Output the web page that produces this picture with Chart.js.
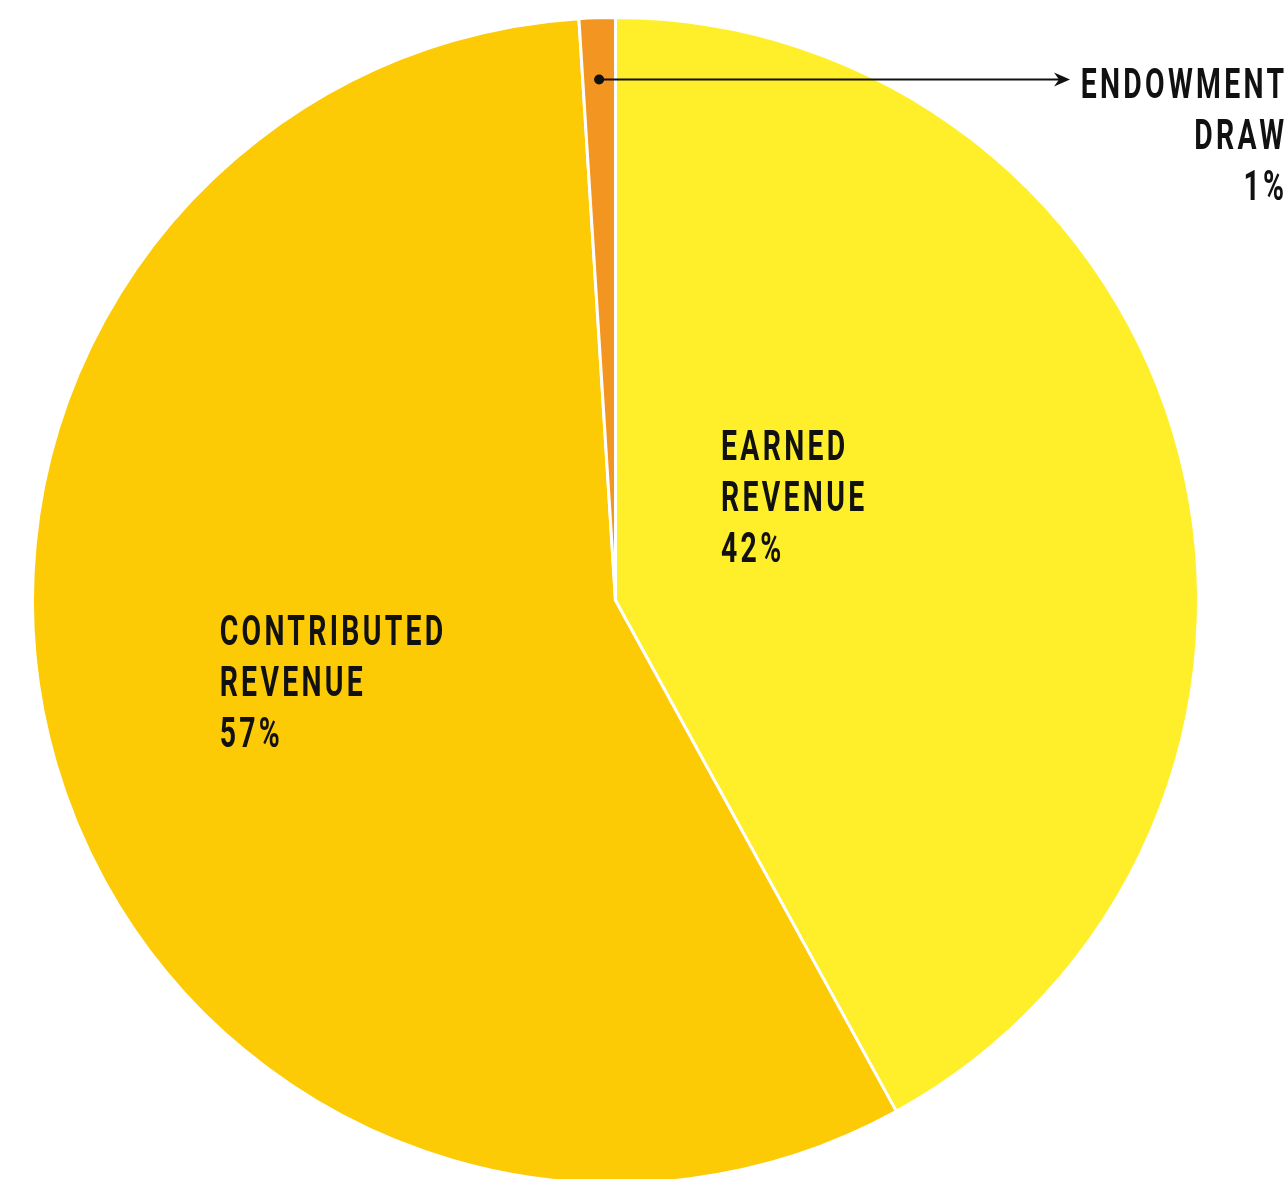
<!DOCTYPE html>
<html>
<head>
<meta charset="utf-8">
<script src="https://cdn.jsdelivr.net/npm/chart.js@4"></script>
<style>
  html, body { margin: 0; padding: 0; background: #fff; overflow: hidden; }
  #wrap { position: absolute; left: 0; top: 0; width: 1286px; height: 1200px; }
</style>
</head>
<body>
<div id="wrap"><canvas id="myChart" width="1286" height="1200"></canvas></div>
<script>
var categories = ["EARNED REVENUE", "CONTRIBUTED REVENUE", "ENDOWMENT DRAW"];
var labelLines = [["EARNED", "REVENUE"], ["CONTRIBUTED", "REVENUE"], ["ENDOWMENT", "DRAW"]];
var shares = [42, 57, 1];
var sliceColors = ["#FFEF2A", "#FDCA06", "#F39521"];

var labelFont = "bold 43px Roboto, 'DejaVu Sans', sans-serif";
var squeeze = 0.66; // condensed look

// labels drawn on top of the pie
var sliceLabels = {
  id: "sliceLabels",
  afterDatasetsDraw: function (chart) {
    var ctx = chart.ctx;
    var arcs = chart.getDatasetMeta(0).data;
    var cx = arcs[0].x, cy = arcs[0].y, r = arcs[0].outerRadius;
    ctx.save();
    ctx.fillStyle = "#111";

    function block(lines, x, y, align) {
      ctx.save();
      ctx.translate(x, y);
      ctx.scale(squeeze, 1);
      ctx.font = labelFont;
      ctx.letterSpacing = "5px";
      ctx.textBaseline = "alphabetic";
      ctx.textAlign = align;
      lines.forEach(function (t, k) {
        // trailing letterSpacing shifts right-aligned text, compensate
        var dx = align === "right" ? 5 : 0;
        ctx.fillText(t, dx, k * 51);
      });
      ctx.restore();
    }

    // earned
    block(labelLines[0].concat([shares[0] + "%"]), cx + 0.181 * r, cy - 0.241 * r, "left");
    // contributed
    block(labelLines[1].concat([shares[1] + "%"]), cx - 0.679 * r, cy + 0.077 * r, "left");

    // endowment: dot + arrow + right aligned label
    var a = arcs[2];
    var mid = (a.startAngle + a.endAngle) / 2;
    var px = cx + Math.cos(mid) * r * 0.894;
    var py = cy + Math.sin(mid) * r * 0.894;
    var ex = 1070;
    ctx.strokeStyle = "#111";
    ctx.lineWidth = 2;
    ctx.beginPath();
    ctx.moveTo(px, py);
    ctx.lineTo(ex - 6, py);
    ctx.stroke();
    ctx.beginPath();
    ctx.arc(px, py, 5, 0, Math.PI * 2);
    ctx.fill();
    ctx.beginPath();
    ctx.moveTo(ex, py);
    ctx.lineTo(ex - 16, py - 7);
    ctx.lineTo(ex - 11, py);
    ctx.lineTo(ex - 16, py + 7);
    ctx.closePath();
    ctx.fill();

    block(labelLines[2].concat([shares[2] + "%"]), 1284, py + 18, "right");
    ctx.restore();
  },
};

new Chart("myChart", {
  type: "pie",
  data: {
    labels: categories,
    datasets: [
      {
        data: shares,
        backgroundColor: sliceColors,
        borderColor: "#ffffff",
        borderWidth: 3,
        hoverOffset: 0,
      },
    ],
  },
  options: {
    responsive: false,
    animation: false,
    layout: {
      padding: { left: 31, right: 86, top: 16, bottom: 15 },
    },
    plugins: {
      legend: { display: false },
      tooltip: { enabled: false },
    },
  },
  plugins: [sliceLabels],
});
</script>
</body>
</html>
